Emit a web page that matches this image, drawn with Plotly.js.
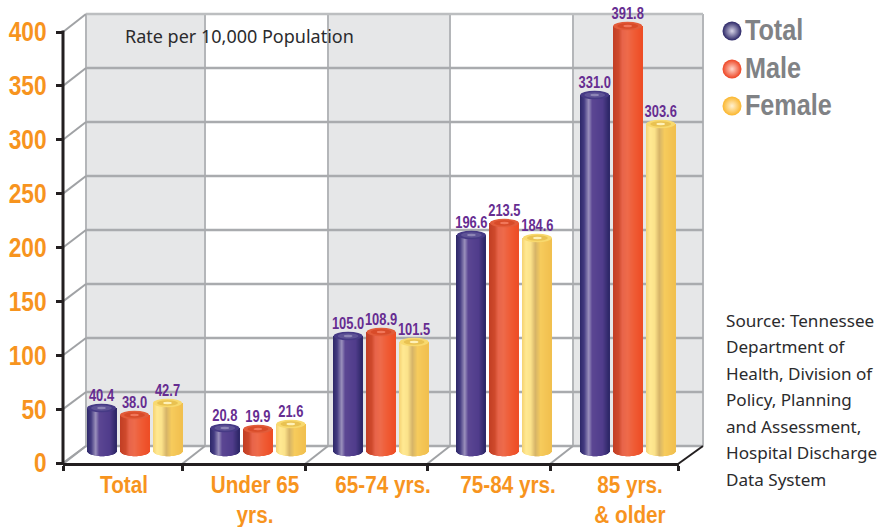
<!DOCTYPE html>
<html><head><meta charset="utf-8">
<script src="https://cdn.plot.ly/plotly-3.0.1.min.js"></script>
<style>html,body{margin:0;padding:0;background:#fff;overflow:hidden}</style>
</head><body><div id="chart" style="width:881px;height:527px"></div>
<script>
// ---------- data ----------
const categories = ['Total','Under 65<br>yrs.','65-74 yrs.','75-84 yrs.','85 yrs.<br>& older'];
const seriesNames = ['Total','Male','Female'];
// values printed above the bars
const totalValues  = [40.4, 20.8, 105.0, 196.6, 331.0];
const maleValues   = [38.0, 19.9, 108.9, 213.5, 391.8];
const femaleValues = [42.7, 21.6, 101.5, 184.6, 303.6];
// bar heights as drawn in the picture (they differ a little from the printed values)
const totalHeights  = [39.9, 21.3, 106.7, 200.4, 330.2];
const maleHeights   = [33.4, 20.4, 110.4, 211.5, 394.2];
const femaleHeights = [44.5, 25.0, 101.1, 197.6, 303.3];
const yTicks = [0,50,100,150,200,250,300,350,400];
const sourceLines = ['Source: Tennessee','Department of','Health, Division of','Policy, Planning','and Assessment,','Hospital Discharge','Data System'];
const rateNote = 'Rate per 10,000 Population';

// ---------- geometry / style ----------
const W=881,H=527,PL=63,PR=679,PB=463,PT=0;
const U=123.3, C0=134.5;             // px per category, px of category 0
const SY=1.0775, SB=1.078, Z=451;    // front axis scale, bar scale, bar zero pixel
const barW=29/U, step=33/U;
const offs=[-step,0,step];
const BOLD='"Liberation Sans Narrow","Liberation Sans",Arial,sans-serif';
const HUMAN='"Noto Sans","Open Sans",sans-serif';
const ORANGE='#f7941e', PURPLE='#662d91', GREY='#808285', DARK='#231f20', WALL='#e6e7e8', GRID='#a9abae';
const grads=[
 [[0,'#2d2868'],[.14,'#433a80'],[.3,'#9a90bc'],[.42,'#5b4693'],[.78,'#503c8b'],[1,'#2c2666']],
 [[0,'#c13e24'],[.2,'#cf4a2c'],[.32,'#e7644a'],[.5,'#ee6a4a'],[.75,'#ef5a33'],[1,'#ee4d25']],
 [[0,'#f5d272'],[.14,'#ffe992'],[.3,'#fbe28a'],[.46,'#d6b468'],[.64,'#f6cb5c'],[1,'#f1bf4e']]
];
const tops=[['#463a85','#5e5396','#8d85b6'],['#e25c3a','#d84b29','#f1775a'],['#f8d96e','#e9c252','#fff1b8']];
const balls=[['#2a2566','#d8d5e8'],['#ee4423','#ffd8cc'],['#fbb62c','#fff1d2']];
const values=[totalValues,maleValues,femaleValues];
const heights=[totalHeights,maleHeights,femaleHeights];

function hex(c){return [1,3,5].map(i=>parseInt(c.substr(i,2),16));}
function gradAt(st,t){
  for(let i=1;i<st.length;i++) if(t<=st[i][0]){
    const a=st[i-1],b=st[i],f=(t-a[0])/(b[0]-a[0]),A=hex(a[1]),B=hex(b[1]);
    return 'rgb('+A.map((v,k)=>Math.round(v+(B[k]-v)*f)).join(',')+')';
  }
  return st[st.length-1][1];
}
const px2x=p=>(p-C0)/U;
const px=p=>(p-PL)/(W-PL), py=p=>(PB-p)/(PB-PT);   // pixel -> paper

// ---------- traces ----------
const traces=[];
const idx=categories.map((_,i)=>i);
const N=29;
heights.forEach((vals,s)=>{
  for(let k=0;k<N;k++){
    const t=(k+.5)/N, u=2*t-1;
    const bot=-Math.sqrt(1-u*u)*5.2/SB;      // rounded cylinder foot
    traces.push({type:'bar',x:idx,y:vals.map(v=>v-bot),base:bot,
      width:idx.map(()=>barW/N*1.08),offset:idx.map(()=>offs[s]-barW/2+barW*k/N),
      marker:{color:gradAt(grads[s],t),line:{width:0}},xaxis:'x',yaxis:'y2',
      hoverinfo:'skip',showlegend:false});
  }
});
heights.forEach((vals,s)=>{
  traces.push({type:'scatter',mode:'markers+text',x:idx.map(i=>i+offs[s]),y:vals,
    text:values[s].map(v=>v.toFixed(1)),textposition:'top center',cliponaxis:false,
    textfont:{family:BOLD,size:17,color:PURPLE,weight:700},
    marker:{size:3,opacity:0},xaxis:'x',yaxis:'y2',name:seriesNames[s],showlegend:false});
});
// legend as labelled spheres in its own small subplot
traces.push({type:'scatter',mode:'markers+text',x:[732,732,732],y:[31,69,106],
  text:seriesNames,textposition:'middle right',cliponaxis:false,
  textfont:{family:BOLD,size:29,color:GREY,weight:700},
  marker:{size:19,color:balls.map(b=>b[0]),line:{width:0},
    gradient:{type:'radial',color:balls.map(b=>b[1])}},
  xaxis:'x3',yaxis:'y3',hoverinfo:'skip',showlegend:false});

// ---------- shapes ----------
const shapes=[];
const pl=(x0,y0,x1,y1,color,width)=>shapes.push({type:'line',xref:'paper',yref:'paper',x0:px(x0),y0:py(y0),x1:px(x1),y1:py(y1),line:{color,width},layer:'below'});
const backY=v=>446-1.08*v, frontY=v=>PB-SY*v;
const backX=[86,205,328,450,573,703], frontX=[63,182,305,427,550,678];
[[86,205],[328,450],[573,703]].forEach(p=>shapes.push({type:'rect',xref:'paper',yref:'paper',x0:px(p[0]),x1:px(p[1]),y0:py(backY(0)),y1:py(backY(400)),fillcolor:WALL,line:{width:0},layer:'below'}));
backX.forEach(x=>pl(x,backY(0),x,backY(400),'#b4b6b9',2));
yTicks.forEach(v=>{pl(86,backY(v),703,backY(v),v==400?'#bcbec0':GRID,2.5);pl(63,frontY(v),86,backY(v),'#a0a2a5',2);});
frontX.forEach((x,i)=>pl(x,PB+1,backX[i],backY(0),i==5?DARK:'#a0a2a5',2));
pl(63,frontY(400)-1.5,63,PB+2,DARK,3);
// cylinder tops
heights.forEach((vals,s)=>vals.forEach((v,i)=>{
  [[1,4.2],[.72,2.8],[.3,1.2]].forEach((e,j)=>{
    const c=i+offs[s],hw=barW/2*e[0],hh=e[1]/SB;
    shapes.push({type:'circle',xref:'x',yref:'y2',x0:c-hw,x1:c+hw,y0:v-hh,y1:v+hh,fillcolor:tops[s][j],line:{width:0}});
  });
}));

// ---------- annotations ----------
const annotations=sourceLines.map((t,i)=>({xref:'paper',yref:'paper',x:px(723.5),y:py(320+i*26.5),xanchor:'left',yanchor:'middle',showarrow:false,text:t,align:'left',font:{family:HUMAN,size:17.1,color:'#2b2b2d'}}));
annotations.push({xref:'paper',yref:'paper',x:px(122.5),y:py(36),xanchor:'left',yanchor:'middle',showarrow:false,text:rateNote,font:{family:HUMAN,size:18,color:'#2b2b2d'}});

// ---------- layout ----------
const xr=[px2x(PL),px2x(PR)];
const dom=[0,(PR-PL)/(W-PL)];
const layout={
  width:W,height:H,margin:{l:PL,r:0,t:PT,b:H-PB,pad:0},paper_bgcolor:'#fff',plot_bgcolor:'rgba(0,0,0,0)',
  barmode:'overlay',showlegend:false,shapes,annotations,
  xaxis:{type:'linear',domain:dom,range:xr,showgrid:false,zeroline:false,showline:true,linecolor:DARK,linewidth:3,
    tickmode:'array',tickvals:frontX.map(px2x),ticktext:frontX.map(()=>''),ticks:'outside',ticklen:5,tickwidth:3,tickcolor:DARK,showticklabels:false,anchor:'y'},
  xaxis2:{type:'linear',domain:dom,range:xr,overlaying:'x',anchor:'y',side:'bottom',showgrid:false,zeroline:false,showline:false,
    tickmode:'array',tickvals:[124,255,383,508,630].map(px2x),ticktext:categories,ticks:'',ticklabelstandoff:6,
    tickfont:{family:BOLD,size:23,color:ORANGE,weight:700}},
  yaxis:{domain:[0,1],range:[0,(PB-PT)/SY],showgrid:false,zeroline:false,showline:false,anchor:'x',
    tickmode:'array',tickvals:yTicks,ticktext:yTicks.map(String),ticks:'outside',ticklen:6,tickwidth:3,tickcolor:DARK,ticklabelstandoff:4,
    tickfont:{family:BOLD,size:27,color:ORANGE,weight:700}},
  yaxis2:{domain:[0,1],range:[(Z-PB)/SB,(Z-PT)/SB],overlaying:'y',anchor:'x',showgrid:false,zeroline:false,showline:false,showticklabels:false,ticks:''},
  xaxis3:{domain:[px(720),1],range:[720,W],visible:false,anchor:'y3'},
  yaxis3:{domain:[py(140),1],range:[140,0],visible:false,anchor:'x3'}
};
traces.push({type:'scatter',mode:'none',x:[xr[0]],y:[0],xaxis:'x2',yaxis:'y',hoverinfo:'skip',showlegend:false});

// condensed look: the bold labels of the reference are a narrow face
function squeeze(el,f){
  const lines=el.querySelectorAll('tspan.line');
  (lines.length?Array.from(lines):[el]).forEach(n=>{
    const len=n.getComputedTextLength();
    n.setAttribute('textLength',(len*f).toFixed(1));
    n.setAttribute('lengthAdjust','spacingAndGlyphs');
  });
}
Plotly.newPlot('chart',traces,layout,{displayModeBar:false,responsive:false}).then(gd=>{
  gd.querySelectorAll('.ytick text').forEach(e=>squeeze(e,.84));
  gd.querySelectorAll('.xtick text, .x2tick text').forEach(e=>squeeze(e,.9));
  gd.querySelectorAll('.scatterlayer .textpoint text').forEach(e=>{
    if(parseFloat(e.style.fontSize)>20){
      squeeze(e,.87);
      e.setAttribute('y',parseFloat(e.getAttribute('y'))+2);
    } else squeeze(e,.76);
  });
});
</script></body></html>
